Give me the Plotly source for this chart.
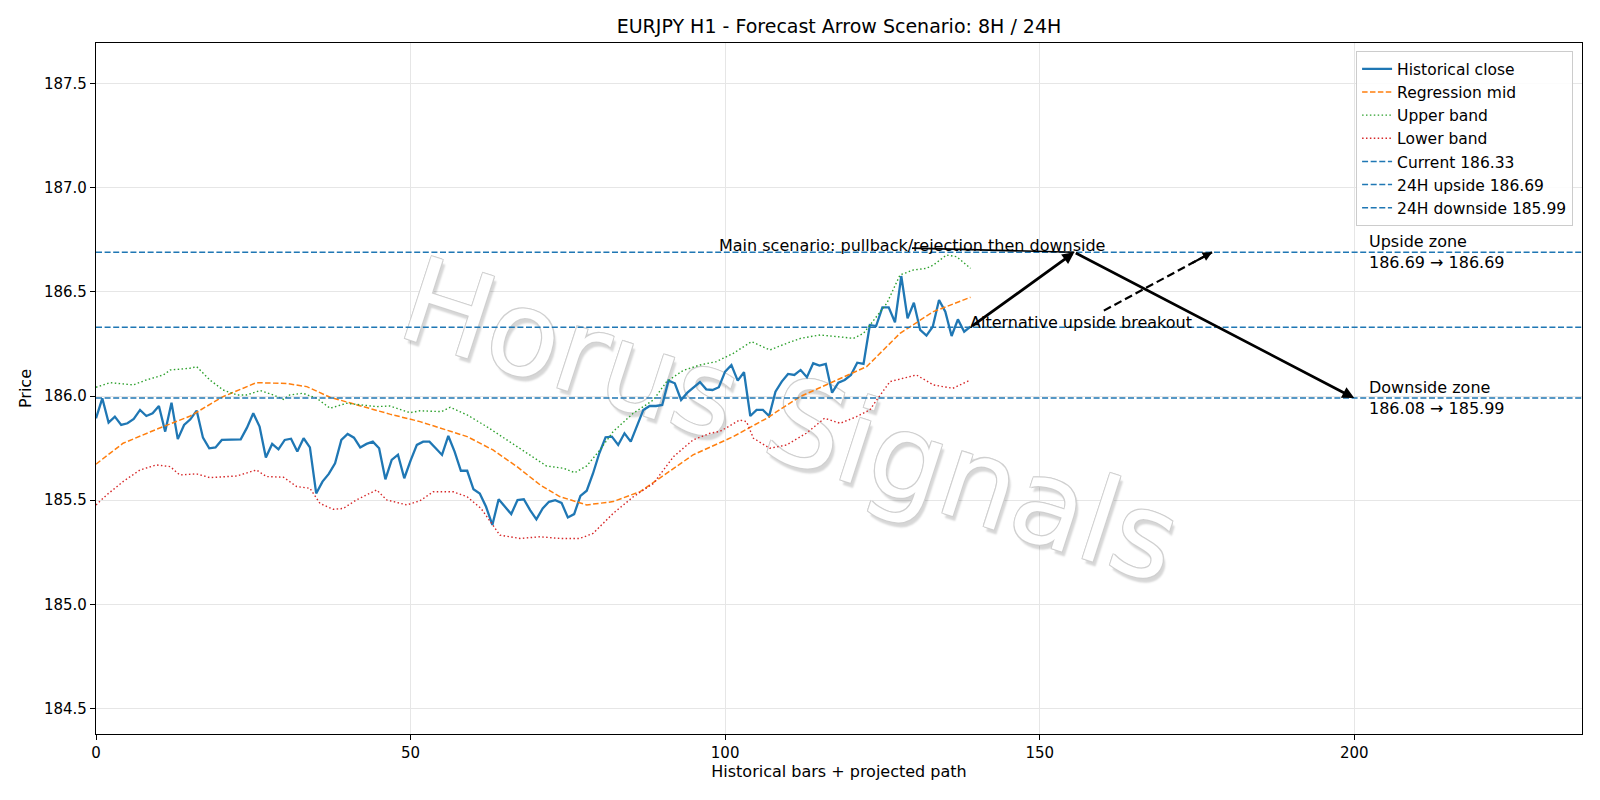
import plotly.graph_objects as go

# ---------------- data ----------------
close = [
    185.893, 185.989, 185.872, 185.901, 185.861, 185.869, 185.890, 185.933, 185.904, 185.917,
    185.952, 185.829, 185.968, 185.793, 185.861, 185.888, 185.930, 185.800, 185.749, 185.753,
    185.789, 185.790, 185.790, 185.792, 185.848, 185.917, 185.853, 185.705, 185.770, 185.744,
    185.789, 185.795, 185.733, 185.797, 185.753, 185.532, 185.589, 185.626, 185.677, 185.789,
    185.818, 185.800, 185.753, 185.770, 185.781, 185.749, 185.600, 185.693, 185.718, 185.605,
    185.690, 185.765, 185.781, 185.781, 185.749, 185.717, 185.808, 185.733, 185.641, 185.641,
    185.552, 185.532, 185.468, 185.381, 185.504, 185.468, 185.433, 185.500, 185.504, 185.452,
    185.408, 185.460, 185.492, 185.500, 185.487, 185.417, 185.433, 185.520, 185.545, 185.628,
    185.725, 185.802, 185.805, 185.765, 185.821, 185.781, 185.853, 185.933, 185.952, 185.952,
    185.957, 186.074, 186.061, 185.981, 186.016, 186.042, 186.067, 186.032, 186.029, 186.042,
    186.117, 186.149, 186.074, 186.114, 185.904, 185.933, 185.933, 185.904, 186.021, 186.069,
    186.106, 186.101, 186.125, 186.090, 186.157, 186.146, 186.154, 186.016, 186.064, 186.077,
    186.101, 186.160, 186.154, 186.341, 186.336, 186.426, 186.426, 186.354, 186.576, 186.373,
    186.448, 186.317, 186.290, 186.333, 186.461, 186.405, 186.288, 186.368, 186.309, 186.333,
]
bars = list(range(len(close)))

mid_x = [0, 4.3, 9.6, 15, 20.2, 25.5, 30.3, 33.5, 37.2, 41.4, 46.7, 51.5, 53.6, 59, 63.1, 66.9,
         70.6, 73.7, 78, 82.2, 86.5, 90.7, 94.9, 101.3, 106.6, 111.9, 117.2, 122.5, 127.8, 133.1, 139]
mid_y = [185.673, 185.773, 185.840, 185.904, 185.997, 186.064, 186.060, 186.045, 185.994, 185.957,
         185.913, 185.877, 185.856, 185.805, 185.741, 185.661, 185.573, 185.517, 185.477, 185.493,
         185.541, 185.629, 185.717, 185.805, 185.893, 185.997, 186.069, 186.141, 186.301, 186.405, 186.474]

upper_x = [0, 2.2, 4.3, 5.9, 8, 10.7, 11.8, 14.9, 16, 18.1, 20.2, 22.4, 23.9, 26.1, 28.2, 29.8,
           30.8, 32.9, 35.1, 37.2, 39.8, 42.5, 44.6, 46.7, 49.9, 51.5, 54.9, 56.3, 59, 62.1, 65.3,
           68.5, 71.6, 74.3, 76.1, 78, 80.1, 82.2, 85.4, 88.6, 90.7, 93.3, 96, 98.6, 101.3, 104.2,
           107.1, 109.8, 112, 115.1, 118.3, 120.4, 122, 123.6, 125.7, 127.8, 129.9, 132, 133.1,
           135.2, 136.8, 139]
upper_y = [186.042, 186.064, 186.058, 186.053, 186.077, 186.101, 186.125, 186.133, 186.141, 186.077,
           186.029, 186.005, 186.005, 186.026, 186.005, 185.984, 186.005, 186.013, 185.989, 185.941,
           185.965, 185.957, 185.949, 185.952, 185.920, 185.929, 185.925, 185.946, 185.909, 185.853,
           185.789, 185.725, 185.664, 185.653, 185.632, 185.664, 185.741, 185.829, 185.917, 185.981,
           186.069, 186.122, 186.149, 186.165, 186.205, 186.261, 186.221, 186.253, 186.277, 186.293,
           186.285, 186.277, 186.301, 186.365, 186.445, 186.581, 186.605, 186.613, 186.629, 186.677,
           186.669, 186.613]

lower_x = [0, 1.7, 4.3, 7, 9.6, 11.8, 13.3, 16, 18.1, 22.4, 25.5, 27.1, 29.8, 31.9, 34, 35.6,
           37.7, 39.3, 41.4, 44.6, 46.2, 49.4, 51.5, 53.6, 56.8, 59, 61.2, 64.2, 67.4, 70.6, 73.7,
           76.9, 79, 82.2, 85.4, 88.6, 91.8, 94.9, 97.6, 99.2, 102.3, 103.4, 104.5, 107.1, 109.8,
           112.9, 115.8, 118.3, 120.9, 123, 124.1, 126.2, 128.3, 130.4, 133.1, 136.2, 139]
lower_y = [185.477, 185.525, 185.589, 185.645, 185.669, 185.661, 185.621, 185.626, 185.608, 185.616,
           185.645, 185.613, 185.610, 185.565, 185.557, 185.484, 185.456, 185.460, 185.501, 185.549,
           185.501, 185.477, 185.497, 185.540, 185.540, 185.516, 185.460, 185.332, 185.316, 185.324,
           185.316, 185.316, 185.340, 185.436, 185.516, 185.580, 185.709, 185.789, 185.821, 185.830,
           185.885, 185.877, 185.797, 185.749, 185.765, 185.821, 185.893, 185.869, 185.901, 185.933,
           185.981, 186.069, 186.085, 186.101, 186.053, 186.037, 186.077]

current_level = 186.33
upside_level = 186.69
downside_level = 185.99
level_names = ["Current 186.33", "24H upside 186.69", "24H downside 185.99"]
level_values = [current_level, upside_level, downside_level]

# scenario path (bar index, price)
main_path_x = [139, 155.5, 200]
main_path_y = [186.33, 186.69, 185.99]
alt_path_x = [160.2, 177.4]
alt_path_y = [186.41, 186.69]
main_label_xy = (129.7, 186.71)
alt_label_xy = (156.6, 186.354)
zone_label_x = 202

x_range = [0, 236.2]
y_range = [184.377, 187.695]

BLUE = "#1f77b4"
FONT = "DejaVu Sans"
TXT = 16
TICK = 15

fig = go.Figure()

fig.add_trace(go.Scatter(x=bars, y=close, mode="lines", name="Historical close",
                         line=dict(color=BLUE, width=2.3)))
fig.add_trace(go.Scatter(x=mid_x, y=mid_y, mode="lines", name="Regression mid",
                         line=dict(color="#ff7f0e", width=1.5, dash="5.5px,2.4px")))
fig.add_trace(go.Scatter(x=upper_x, y=upper_y, mode="lines", name="Upper band",
                         line=dict(color="#2ca02c", width=1.4, dash="1.5px,2.4px")))
fig.add_trace(go.Scatter(x=lower_x, y=lower_y, mode="lines", name="Lower band",
                         line=dict(color="#d62728", width=1.4, dash="1.5px,2.4px")))
for nm, lv in zip(level_names, level_values):
    fig.add_trace(go.Scatter(x=x_range, y=[lv, lv], mode="lines", name=nm,
                             line=dict(color=BLUE, width=1.5, dash="6px,2.6px")))

# connector line from main label to peak
fig.add_trace(go.Scatter(x=[main_label_xy[0], main_path_x[1]], y=[main_label_xy[1], main_path_y[1]],
                         mode="lines", showlegend=False, hoverinfo="skip",
                         line=dict(color="black", width=1.6)))
# dashed alternative arrow shaft
fig.add_trace(go.Scatter(x=alt_path_x, y=alt_path_y, mode="lines", showlegend=False, hoverinfo="skip",
                         line=dict(color="black", width=2.2, dash="8px,4px")))

annotations = []
# main solid arrows
for i in range(len(main_path_x) - 1):
    annotations.append(dict(x=main_path_x[i + 1], y=main_path_y[i + 1], ax=main_path_x[i], ay=main_path_y[i],
                            xref="x", yref="y", axref="x", ayref="y", text="", showarrow=True,
                            arrowhead=2, arrowsize=0.85, arrowwidth=2.8, arrowcolor="black", standoff=0))
# alt arrow head
annotations.append(dict(x=alt_path_x[1], y=alt_path_y[1],
                        ax=alt_path_x[1] - 0.2 * (alt_path_x[1] - alt_path_x[0]),
                        ay=alt_path_y[1] - 0.2 * (alt_path_y[1] - alt_path_y[0]),
                        xref="x", yref="y", axref="x", ayref="y", text="", showarrow=True,
                        arrowhead=2, arrowsize=0.85, arrowwidth=2.2, arrowcolor="black", standoff=0))
annotations.append(dict(x=main_label_xy[0], y=upside_level, xref="x", yref="y",
                        text="Main scenario: pullback/rejection then downside", showarrow=False,
                        xanchor="center", yanchor="bottom", yshift=-5,
                        font=dict(family=FONT, size=TXT, color="black")))
annotations.append(dict(x=alt_label_xy[0], y=alt_label_xy[1], xref="x", yref="y",
                        text="Alternative upside breakout", showarrow=False,
                        xanchor="center", yanchor="middle", font=dict(family=FONT, size=TXT, color="black")))
annotations.append(dict(x=zone_label_x, y=upside_level, xref="x", yref="y",
                        text=f"Upside zone<br>{upside_level:.2f} → {upside_level:.2f}", showarrow=False,
                        xanchor="left", yanchor="middle", align="left",
                        font=dict(family=FONT, size=TXT, color="black")))
annotations.append(dict(x=zone_label_x, y=downside_level, xref="x", yref="y",
                        text=f"Downside zone<br>186.08 → {downside_level:.2f}", showarrow=False,
                        xanchor="left", yanchor="middle", align="left",
                        font=dict(family=FONT, size=TXT, color="black")))

# watermark as shape label drawn beneath the data
wm_font = dict(family=FONT, size=118, color="white",
               shadow="-1px -1px 0 #d0d0d0, 1px -1px 0 #d0d0d0, -1px 1px 0 #d0d0d0, "
                      "1px 1px 0 #d0d0d0, 4px 4px 2px rgba(0,0,0,0.16)")
wm_shape = dict(type="rect", xref="x", yref="y", x0=90.8, x1=130.8, y0=185.82, y1=186.02,
                line=dict(width=0), fillcolor="rgba(0,0,0,0)", layer="between",
                label=dict(text="Horus Signals", textangle=18, textposition="middle center",
                           font=wm_font))
try:
    fig.add_shape(**wm_shape)
except Exception:
    wm_font.pop("shadow", None)
    wm_font["color"] = "rgba(200,200,200,0.6)"
    wm_shape["layer"] = "below"
    fig.add_shape(**wm_shape)

fig.update_layout(
    width=1600, height=800,
    margin=dict(l=96, r=18, t=43, b=66),
    paper_bgcolor="white", plot_bgcolor="white",
    font=dict(family=FONT, size=TXT, color="black"),
    title=dict(text="EURJPY H1 - Forecast Arrow Scenario: 8H / 24H", x=0.5, xref="paper",
               y=1 - 26 / 800, yref="container", xanchor="center", yanchor="middle",
               font=dict(family=FONT, size=19, color="black")),
    legend=dict(x=0.994, y=0.988, xanchor="right", yanchor="top", bgcolor="rgba(255,255,255,0.85)",
                bordercolor="#cccccc", borderwidth=1, font=dict(family=FONT, size=15.5, color="black"),
                tracegroupgap=0, itemwidth=30),
    annotations=annotations,
    showlegend=True,
)
fig.update_xaxes(range=x_range, tickvals=[0, 50, 100, 150, 200], showgrid=True, gridcolor="#e6e6e6",
                 gridwidth=1, zeroline=False, showline=True, linecolor="black", linewidth=1.2, mirror=True,
                 ticks="outside", ticklen=5, tickcolor="black", tickfont=dict(size=TICK, color="black"),
                 title=dict(text="Historical bars + projected path", standoff=3,
                            font=dict(size=TXT, color="black")))
fig.update_yaxes(range=y_range, tickvals=[184.5, 185.0, 185.5, 186.0, 186.5, 187.0, 187.5],
                 ticktext=["184.5", "185.0", "185.5", "186.0", "186.5", "187.0", "187.5"],
                 showgrid=True, gridcolor="#e6e6e6", gridwidth=1, zeroline=False, showline=True,
                 linecolor="black", linewidth=1.2, mirror=True, ticks="outside", ticklen=5,
                 tickcolor="black", tickfont=dict(size=TICK, color="black"),
                 title=dict(text="Price", standoff=8, font=dict(size=TXT, color="black")))

fig.write_html("out.html")
